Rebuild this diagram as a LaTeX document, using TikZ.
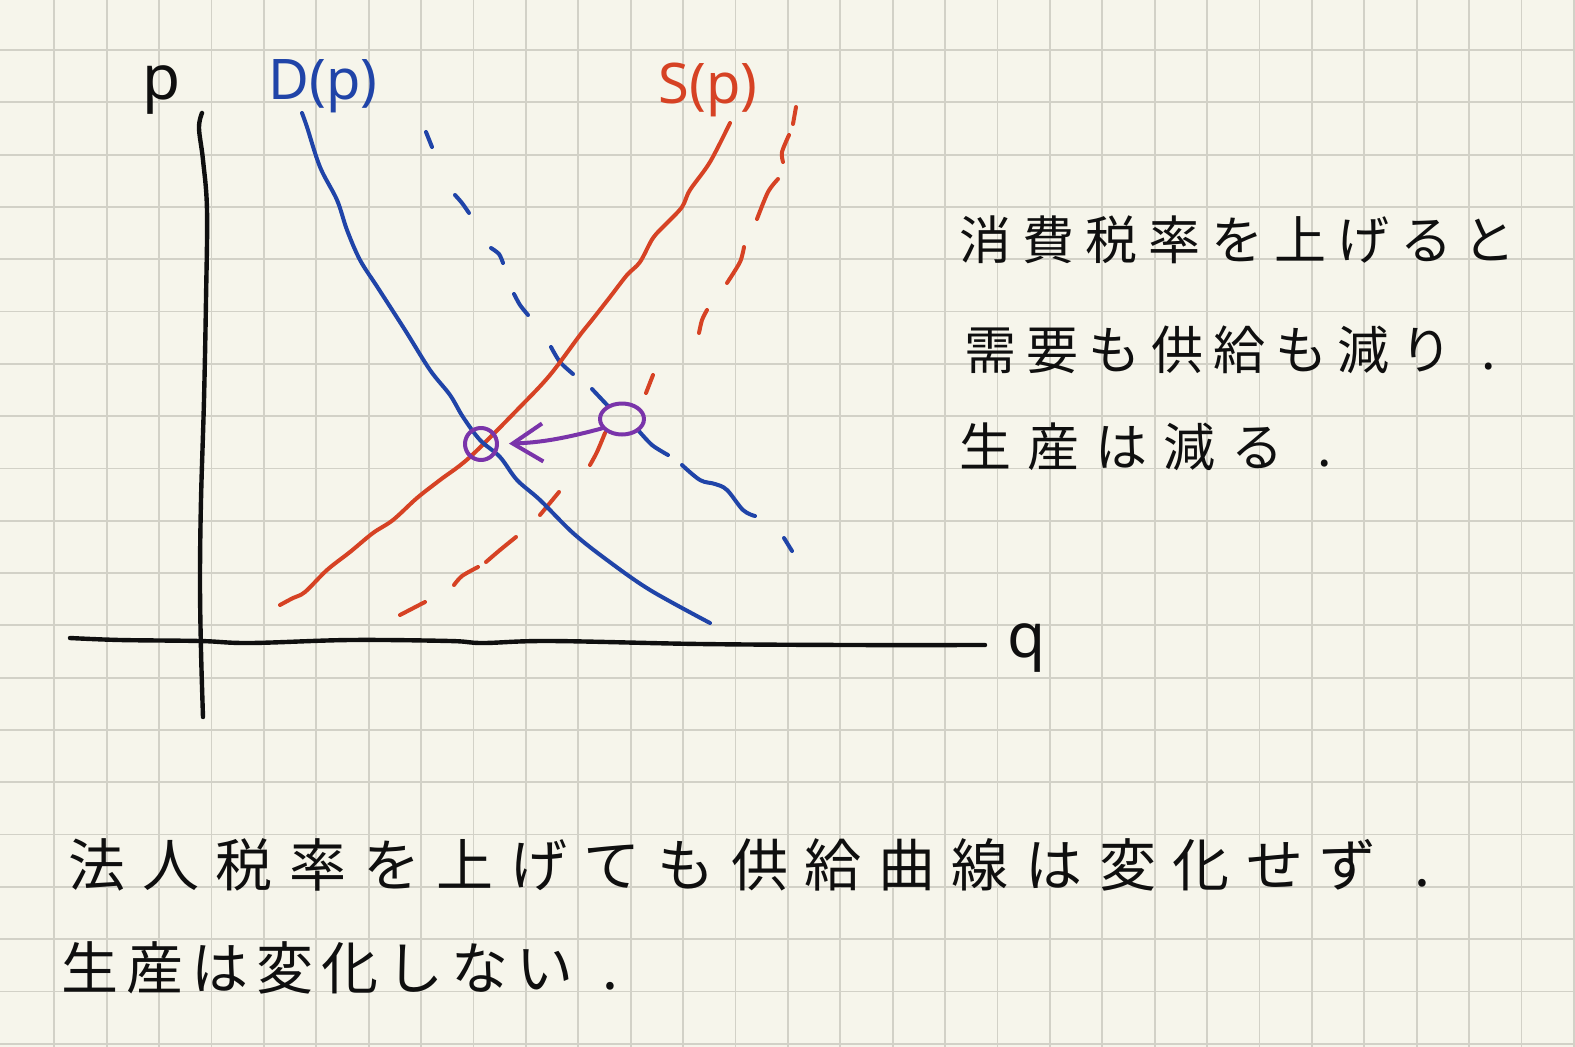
\documentclass[tikz,border=0pt]{standalone}
\usepackage{fontspec}
\usetikzlibrary{arrows.meta,shapes.geometric}
\newfontfamily\jp{Noto Sans CJK JP}
\newfontfamily\lab{Noto Sans}
\definecolor{paper}{RGB}{246,245,235}
\definecolor{gridc}{RGB}{210,209,199}
\definecolor{penblue}{RGB}{32,68,168}
\definecolor{penred}{RGB}{214,66,36}
\definecolor{penpurple}{RGB}{122,52,170}
\definecolor{penblack}{RGB}{15,15,15}
\newlength\chw
\makeatletter
\def\spreadchars#1{\spread@a#1\relax}
\def\spread@a#1{\ifx\relax#1\else\makebox[\chw][c]{#1}\expandafter\spread@a\fi}
\makeatother
\tikzset{
  gridline/.style={draw=gridc, line width=1.8pt},
  pen/.style={line width=4pt, line cap=round, line join=round},
  bluepen/.style={pen, draw=penblue},
  redpen/.style={pen, draw=penred},
  purplepen/.style={pen, draw=penpurple},
  axispen/.style={pen, draw=penblack, line width=4.4pt},
  jtext/.style={inner sep=0pt, anchor=west, text=penblack},
  jright/.style={jtext, font=\fontsize{52}{60}\selectfont\jp},
  jbottom/.style={jtext, font=\fontsize{57}{64}\selectfont\jp},
  axlabel/.style={inner sep=0pt, text=penblack, font=\fontsize{62}{70}\selectfont\lab},
  curvelabel/.style={inner sep=0pt, font=\fontsize{56}{64}\selectfont\lab},
}
\begin{document}
\begin{tikzpicture}[x=1pt,y=-1pt]
\useasboundingbox (0,0) rectangle (1575,1047);
\fill[paper] (0,0) rectangle (1575,1047);
% grid
\foreach \i in {0,...,29} \draw[gridline] ({54.3+52.4*\i},0) -- ({54.3+52.4*\i},1047);
\foreach \j in {0,...,19} \draw[gridline] (0,{50+52.3*\j}) -- (1575,{50+52.3*\j});

% axes
\draw[axispen] plot[smooth, tension=0.6] coordinates {(202,113) (199,128) (203,160) (207,210) (206,300) (204,400) (201,500) (200,580) (201,650) (203,717)};
\draw[axispen] plot[smooth, tension=0.6] coordinates {(70,638) (120,640) (200,641) (250,643) (350,640) (450,641) (483,643) (550,641) (700,644) (850,645) (985,645)};
\node[axlabel] (plabel) at (162,90) {p};
\node[axlabel] (qlabel) at (1027,648) {q};

% shifted demand (dashed, blue)
\draw[bluepen] (426,132) -- (432,147);
\draw[bluepen] plot[smooth] coordinates {(455,195) (462,203) (469,213)};
\draw[bluepen] plot[smooth] coordinates {(491,248) (499,254) (503,263)};
\draw[bluepen] plot[smooth] coordinates {(514,294) (520,305) (528,315)};
\draw[bluepen] plot[smooth] coordinates {(551,347) (560,362) (573,374)};
\draw[bluepen] (592,389) -- (608,406);
\draw[bluepen] plot[smooth] coordinates {(638,430) (652,445) (668,455)};
\draw[bluepen] plot[smooth, tension=0.6] coordinates {(682,465) (700,480) (715,484) (727,490) (743,510) (755,516)};
\draw[bluepen] (784,538) -- (792,551);

% shifted supply (dashed, red)
\draw[redpen] (796,107) -- (793,124);
\draw[redpen] plot[smooth] coordinates {(789,135) (782,152) (783,162)};
\draw[redpen] plot[smooth] coordinates {(778,179) (768,192) (757,219)};
\draw[redpen] plot[smooth] coordinates {(744,247) (740,262) (727,283)};
\draw[redpen] plot[smooth] coordinates {(707,310) (702,320) (699,333)};
\draw[redpen] (653,375) -- (646,393);
\draw[redpen] plot[smooth] coordinates {(605,433) (597,452) (590,465)};
\draw[redpen] (559,492) -- (540,515);
\draw[redpen] plot[smooth] coordinates {(516,537) (500,550) (486,562)};
\draw[redpen] plot[smooth] coordinates {(478,567) (462,576) (454,585)};
\draw[redpen] (425,602) -- (400,615);

% supply curve
\draw[redpen] plot[smooth, tension=0.55] coordinates {(280,605) (293,598) (305,592) (327,570) (350,552) (373,533) (393,520) (417,498) (440,480) (470,457) (520,407) (550,375) (580,335) (592,320) (610,297) (627,275) (640,262) (653,238) (667,223) (682,207) (690,190) (710,162) (730,123)};
\node[curvelabel, text=penred] (slabel) at (708,90) {S(p)};

% demand curve
\draw[bluepen] plot[smooth, tension=0.55] coordinates {(302,113) (307,127) (320,167) (337,200) (347,230) (360,260) (378,288) (405,330) (430,370) (450,395) (463,417) (480,440) (500,457) (517,480) (540,500) (573,533) (607,560) (650,590) (710,623)};
\node[curvelabel, text=penblue] (dlabel) at (323,86) {D(p)};

% equilibria and arrow
\node[purplepen, circle, minimum size=32pt, inner sep=0pt, draw] (eq0) at (481,444) {};
\node[purplepen, ellipse, minimum width=44pt, minimum height=31pt, inner sep=0pt, draw] (eq1) at (622,419) {};
\draw[purplepen, shorten >=10pt, -{Straight Barb[length=30pt,width=38pt]}] (eq1.205) to[out=195,in=2] (eq0.east);

% texts
\node[jright] (r1) at ({985-31.5},240) {\setlength\chw{63pt}\spreadchars{消費税率を上げると}};
\node[jright] (r2) at ({990-31.2},350) {\setlength\chw{62.3pt}\spreadchars{需要も供給も減り.}};
\node[jright] (r3) at ({985-34},447) {\setlength\chw{68pt}\spreadchars{生産は減る.}};
\node[jbottom] (b1) at ({97-36.8},865) {\setlength\chw{73.6pt}\spreadchars{法人税率を上げても供給曲線は変化せず.}};
\node[jbottom] (b2) at ({90-32.5},968) {\setlength\chw{65pt}\spreadchars{生産は変化しない.}};
\end{tikzpicture}
\end{document}
